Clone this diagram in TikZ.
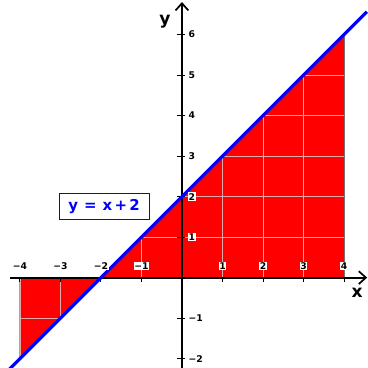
\documentclass[tikz,border=0pt]{standalone}
\usepackage{fontspec}
\setmainfont{DejaVu Sans}
\usepackage{xcolor}
\usepackage{tikz}
\usetikzlibrary{arrows.meta}
\definecolor{plotRed}{HTML}{FF0000}
\definecolor{plotBlue}{HTML}{0000FF}
\definecolor{gridPink}{HTML}{E0A8A8}

\begin{document}
\begin{tikzpicture}[x=1cm,y=1cm,
  ticklab/.style={font=\fontsize{6.5}{7}\selectfont\bfseries,fill=white,inner sep=0.5pt},
  axislab/.style={font=\fontsize{12}{13}\selectfont\bfseries},
  axisline/.style={line width=1.4pt,-{Straight Barb[length=5pt,width=9pt,line width=1.2pt]}}]
\useasboundingbox (-4.49,-2.23) rectangle (4.59,6.85);
% shaded area between the line and the x axis
\fill[plotRed] (-4,0) -- (-4,-2) -- (-2,0) -- cycle;
\fill[plotRed] (-2,0) -- (4,6) -- (4,0) -- cycle;
\begin{scope}
\clip (-4,0) -- (-4,-2) -- (-2,0) -- (4,6) -- (4,0) -- cycle;
\draw[gridPink,line width=0.5pt] (-4,-2) grid (4,6);
\end{scope}
\draw[black!35,line width=0.6pt] (-4,-2) -- (-4,0);
\draw[black!55,line width=0.6pt] (4,0) -- (4,6);
% axes
\draw[axisline] (-4.25,0) -- (4.57,0);
\draw[axisline] (0,-2.3) -- (0,6.8);
\draw[line width=0.6pt] (-4,0) -- (-4,-0.12);
\draw[line width=0.6pt] (-3,0) -- (-3,-0.12);
\draw[line width=0.6pt] (-2,0) -- (-2,-0.12);
\draw[line width=0.6pt] (-1,0) -- (-1,-0.12);
\draw[line width=0.6pt] (1,0) -- (1,-0.12);
\draw[line width=0.6pt] (2,0) -- (2,-0.12);
\draw[line width=0.6pt] (3,0) -- (3,-0.12);
\draw[line width=0.6pt] (4,0) -- (4,-0.12);
\draw[line width=0.6pt] (-0.12,-2) -- (0.08,-2);
\draw[line width=0.6pt] (-0.12,-1) -- (0.08,-1);
\draw[line width=0.6pt] (-0.12,1) -- (0.08,1);
\draw[line width=0.6pt] (-0.12,2) -- (0.08,2);
\draw[line width=0.6pt] (-0.12,3) -- (0.08,3);
\draw[line width=0.6pt] (-0.12,4) -- (0.08,4);
\draw[line width=0.6pt] (-0.12,5) -- (0.08,5);
\draw[line width=0.6pt] (-0.12,6) -- (0.08,6);
% the line y = x + 2
\draw[plotBlue,line width=2.2pt] (-4.3,-2.3) -- (4.56,6.56);
% tick labels
\node[ticklab] (xm4) at (-4,0.28) {−4};
\node[ticklab] (xm3) at (-3,0.28) {−3};
\node[ticklab] (xm2) at (-2,0.28) {−2};
\node[ticklab] (xm1) at (-1,0.28) {−1};
\node[ticklab] (xp1) at (1,0.28) {1};
\node[ticklab] (xp2) at (2,0.28) {2};
\node[ticklab] (xp3) at (3,0.28) {3};
\node[ticklab] (xp4) at (4,0.28) {4};
\node[ticklab,anchor=west] (ym2) at (0.14,-2) {−2};
\node[ticklab,anchor=west] (ym1) at (0.14,-1) {−1};
\node[ticklab,anchor=west] (yp1) at (0.14,1) {1};
\node[ticklab,anchor=west] (yp2) at (0.14,2) {2};
\node[ticklab,anchor=west] (yp3) at (0.14,3) {3};
\node[ticklab,anchor=west] (yp4) at (0.14,4) {4};
\node[ticklab,anchor=west] (yp5) at (0.14,5) {5};
\node[ticklab,anchor=west] (yp6) at (0.14,6) {6};
\node[axislab] (xname) at (4.32,-0.38) {x};
\node[axislab] (yname) at (-0.42,6.31) {y};
% equation box
\node[draw=plotBlue,fill=white,text=plotBlue,line width=0.8pt,inner sep=1pt,
  minimum width=2.22cm,minimum height=0.64cm,
  font=\fontsize{10.5}{12}\selectfont\bfseries] (eqn) at (-1.92,1.76)
  {y\hspace{0.4em}=\hspace{0.4em}x\hspace{0.15em}+\hspace{0.15em}2};
\end{tikzpicture}
\end{document}
